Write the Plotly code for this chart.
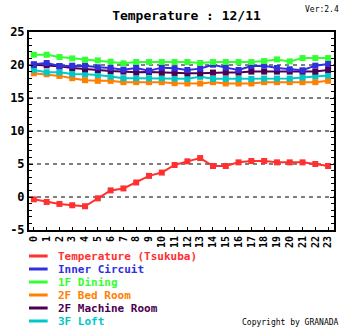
import plotly.graph_objects as go

hours = list(range(24))
hour_labels = [str(h) for h in hours]

series_names = ["Temperature (Tsukuba)", "Inner Circuit", "1F Dining",
                "2F Bed Room", "2F Machine Room", "3F Loft"]
series_colors = ["#ff3030", "#3030e0", "#33ff33", "#ff7f00", "#4b0050", "#00c8c8"]

temp_tsukuba = [-0.35, -0.75, -1.05, -1.25, -1.4, -0.2, 1.0, 1.3, 2.2, 3.2, 3.7, 4.85,
                5.4, 5.9, 4.7, 4.7, 5.25, 5.45, 5.45, 5.25, 5.25, 5.25, 5.0, 4.7]
inner_circuit = [20.1, 20.3, 19.85, 19.9, 19.9, 19.65, 19.55, 19.3, 19.55, 19.15, 19.6, 19.5,
                 19.25, 19.45, 20.05, 19.6, 19.25, 19.85, 19.9, 19.55, 19.35, 19.2, 19.9, 20.15]
dining_1f = [21.55, 21.55, 21.2, 21.0, 20.8, 20.7, 20.5, 20.25, 20.45, 20.45, 20.45, 20.45,
             20.45, 20.3, 20.45, 20.45, 20.45, 20.45, 20.6, 20.85, 20.55, 21.05, 21.05, 21.05]
bedroom_2f = [18.75, 18.6, 18.35, 18.0, 17.7, 17.6, 17.6, 17.4, 17.4, 17.4, 17.4, 17.25,
              17.2, 17.2, 17.4, 17.2, 17.2, 17.2, 17.4, 17.4, 17.4, 17.4, 17.4, 17.6]
machine_2f = [20.05, 19.95, 19.8, 19.55, 19.35, 19.25, 19.1, 19.0, 18.9, 18.95, 18.85, 18.8,
              18.75, 18.75, 18.85, 18.85, 18.85, 19.0, 19.0, 19.0, 19.0, 19.0, 19.0, 19.25]
loft_3f = [19.25, 18.9, 18.9, 18.65, 18.6, 18.5, 18.25, 18.0, 18.0, 18.0, 18.0, 17.95,
           17.9, 18.2, 17.9, 17.9, 17.9, 17.9, 17.95, 17.95, 17.95, 18.1, 18.3, 18.4]

series_values = [temp_tsukuba, inner_circuit, dining_1f, bedroom_2f, machine_2f, loft_3f]

y_ticks = [-5, 0, 5, 10, 15, 20, 25]
grid_levels = [0, 5, 10, 15, 20]

title_text = "Temperature : 12/11"
version_text = "Ver:2.4"
copyright_text = "Copyright by GRANADA"

MONO = "DejaVu Sans Mono"

fig = go.Figure()

# dashed horizontal grid lines
for g in grid_levels:
    fig.add_shape(type="line", xref="paper", yref="y", x0=0, x1=1, y0=g, y1=g,
                  line=dict(color="black", width=1, dash="4px,4px"), layer="below")

# draw in order so that red ends up under, others on top as in reference
draw_order = [0, 3, 5, 4, 1, 2]
for i in draw_order:
    fig.add_trace(go.Scatter(
        x=hours, y=series_values[i], mode="lines+markers", name=series_names[i],
        line=dict(color=series_colors[i], width=2),
        marker=dict(symbol="square", size=6, color=series_colors[i]),
        showlegend=False,
    ))

# custom legend (line sample + coloured text)
for i, (name, col) in enumerate(zip(series_names, series_colors)):
    ypix = 256 + 13 * i
    yp = 1 - (ypix - 32) / 198.0
    fig.add_shape(type="line", xref="paper", yref="paper",
                  x0=(25 - 25) / 311.0, x1=(44 - 25) / 311.0, y0=yp, y1=yp,
                  line=dict(color=col, width=3))
    fig.add_annotation(xref="paper", yref="paper", x=(53 - 25) / 311.0, y=yp,
                       text="<b>" + name + "</b>", showarrow=False,
                       xanchor="left", yanchor="middle",
                       font=dict(family=MONO, size=11, color=col))

fig.add_annotation(xref="paper", yref="paper", x=(343 - 25) / 311.0,
                   y=1 - (322 - 32) / 198.0, text=copyright_text, showarrow=False,
                   xanchor="right", yanchor="middle",
                   font=dict(family=MONO, size=8, color="black"))
fig.add_annotation(xref="paper", yref="paper", x=(343 - 25) / 311.0,
                   y=1 - (10 - 32) / 198.0, text=version_text, showarrow=False,
                   xanchor="right", yanchor="middle",
                   font=dict(family=MONO, size=8, color="black"))

fig.update_layout(
    width=346, height=328,
    margin=dict(l=25, r=10, t=32, b=98),
    paper_bgcolor="white", plot_bgcolor="white",
    title=dict(text="<b>" + title_text + "</b>", x=(186.5) / 346.0, xanchor="center",
               y=1 - 15 / 328.0, yanchor="middle",
               font=dict(family=MONO, size=13, color="black")),
    xaxis=dict(range=[-0.38, 23.46], tickvals=hours, ticktext=["<b>" + t + "</b>" for t in hour_labels],
               tickangle=-90, showgrid=False, zeroline=False,
               showline=True, linecolor="black", linewidth=2, mirror=True,
               ticks="inside", ticklen=3, tickcolor="black",
               tickfont=dict(family=MONO, size=10, color="black")),
    yaxis=dict(range=[-5, 25], tickvals=y_ticks, ticktext=["<b>" + str(v) + "</b>" for v in y_ticks],
               showgrid=False, zeroline=False,
               showline=True, linecolor="black", linewidth=2, mirror="allticks",
               ticks="inside", ticklen=4, tickcolor="black",
               minor=dict(dtick=1, ticks="inside", ticklen=3, tickcolor="black"),
               tickfont=dict(family=MONO, size=12, color="black")),
)

fig.write_html("out.html")
